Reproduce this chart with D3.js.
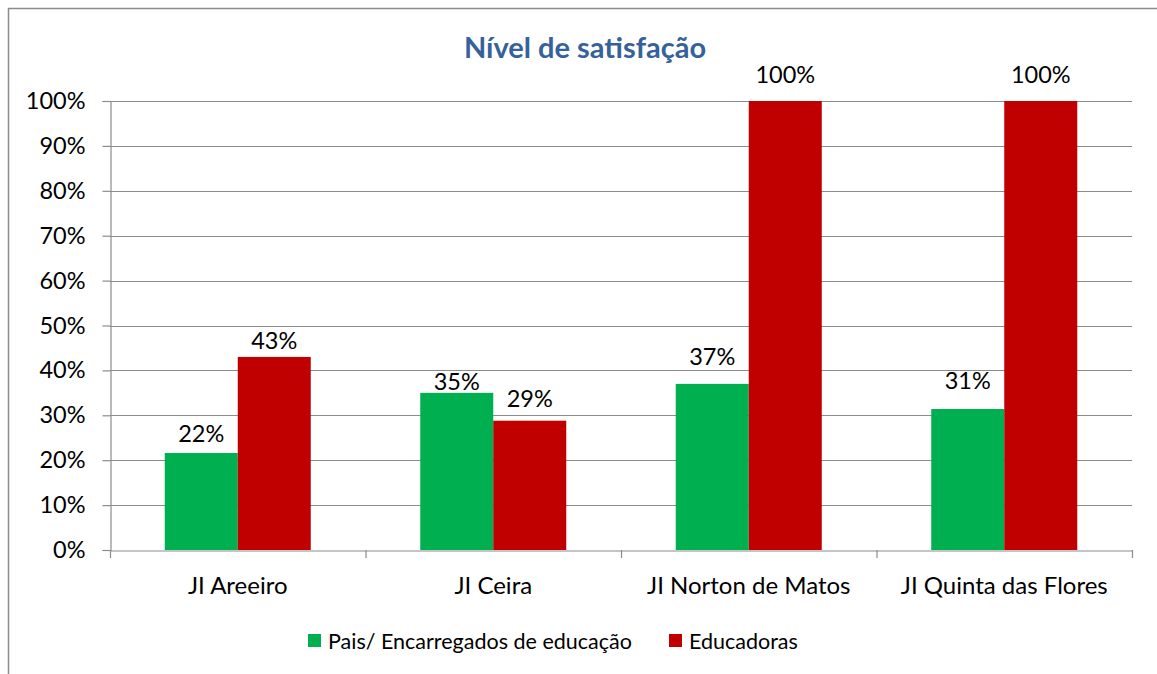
<!DOCTYPE html>
<html>
<head>
<meta charset="utf-8">
<script src="https://cdn.jsdelivr.net/npm/d3@7"></script>
<style>
  body { margin: 0; background: #fff; }
  svg text { font-family: Lato, "Open Sans", sans-serif; fill: #000; }
</style>
</head>
<body>
<svg id="chart" width="1157" height="674"></svg>
<script>
// chart data
const categories = ["JI Areeiro", "JI Ceira", "JI Norton de Matos", "JI Quinta das Flores"];
const seriesNames = ["Pais/ Encarregados de educação", "Educadoras"];
const pais = [0.216, 0.35, 0.37, 0.314];
const educadoras = [0.43, 0.288, 1.0, 1.0];
const yTicks = [0, 0.1, 0.2, 0.3, 0.4, 0.5, 0.6, 0.7, 0.8, 0.9, 1.0];
const colors = ["#00B050", "#C00000"];

// labels were hand-placed in the original, gap above each bar in px
const labelGap = [[11, 8], [3, 14], [19, 18], [20, 18]];

let svg = d3.select("#chart");
let plotLeft = 110, plotRight = 1132, plotTop = 101, plotBottom = 550;

// frame
svg.append("path")
  .attr("d", "M8.5,674 L8.5,8.5 L1157,8.5")
  .attr("fill", "none").attr("stroke", "#8c8c8c").attr("stroke-width", 1.5);

let x  = d3.scaleBand().domain(categories).range([plotLeft, plotRight]).paddingInner(0).paddingOuter(0);
let xs = d3.scaleBand().domain([0, 1]).range([0, x.bandwidth()]).paddingOuter(0.75);
let y  = d3.scaleLinear().domain([0, 1]).range([plotBottom, plotTop]);

// gridlines
svg.append("g").selectAll("line").data(yTicks.slice(1)).join("line")
  .attr("x1", plotLeft).attr("x2", plotRight)
  .attr("y1", d => Math.round(y(d)) + 0.5).attr("y2", d => Math.round(y(d)) + 0.5)
  .attr("stroke", "#8c8c8c").attr("stroke-width", 1.2);

// y axis
let yAxis = svg.append("g").attr("transform", `translate(${plotLeft + 0.5},0)`)
  .call(d3.axisLeft(y).tickValues(yTicks).tickFormat(d3.format(".0%")).tickSize(8).tickPadding(17));
yAxis.select(".domain").attr("stroke", "#8c8c8c").attr("stroke-width", 1.2);
yAxis.selectAll(".tick line").attr("stroke", "#8c8c8c").attr("stroke-width", 1.2);
yAxis.selectAll(".tick text").attr("font-size", 23.5).attr("font-family", "Lato, sans-serif").attr("fill", "#000");

// bars
let groups = svg.append("g").selectAll("g").data(categories).join("g")
  .attr("transform", d => `translate(${x(d)},0)`);
let barData = (c, i) => [pais[i], educadoras[i]].map((v, k) => ({k, v, gap: labelGap[i][k]}));
groups.selectAll("rect").data(barData).join("rect")
  .attr("x", d => xs(d.k))
  .attr("width", xs.bandwidth())
  .attr("y", d => y(d.v))
  .attr("height", d => y(0) - y(d.v))
  .attr("fill", d => colors[d.k]);
groups.selectAll("text.lbl").data(barData).join("text")
  .attr("class", "lbl")
  .attr("x", d => xs(d.k) + xs.bandwidth() / 2)
  .attr("y", d => y(d.v) - d.gap)
  .attr("text-anchor", "middle")
  .attr("font-size", 23.5)
  .text(d => d3.format(".0%")(d.v));

// x axis
let xAxis = svg.append("g").attr("transform", `translate(0,${plotBottom + 0.5})`)
  .call(d3.axisBottom(x).tickSize(0).tickPadding(26));
xAxis.select(".domain").attr("stroke", "#8c8c8c").attr("stroke-width", 1.2);
xAxis.selectAll(".tick text").attr("font-size", 24).attr("font-family", "Lato, sans-serif").attr("fill", "#000");
svg.append("g").selectAll("line").data(d3.range(categories.length + 1)).join("line")
  .attr("x1", i => plotLeft + i * x.bandwidth() + 0.5).attr("x2", i => plotLeft + i * x.bandwidth() + 0.5)
  .attr("y1", plotBottom).attr("y2", plotBottom + 8)
  .attr("stroke", "#8c8c8c").attr("stroke-width", 1.2);

// title
svg.append("text")
  .attr("x", 585).attr("y", 58)
  .attr("text-anchor", "middle")
  .attr("font-size", 29).attr("font-weight", "bold")
  .style("fill", "#35629A")
  .text("Nível de satisfação");

// legend
let legendX = [308, 669];
let legend = svg.append("g").selectAll("g").data(seriesNames).join("g")
  .attr("transform", (d, i) => `translate(${legendX[i]},634)`);
legend.append("rect").attr("width", 13).attr("height", 13).attr("fill", (d, i) => colors[i]);
legend.append("text").attr("x", 20).attr("y", 15).attr("font-size", 21.5).text(d => d);
</script>
</body>
</html>
